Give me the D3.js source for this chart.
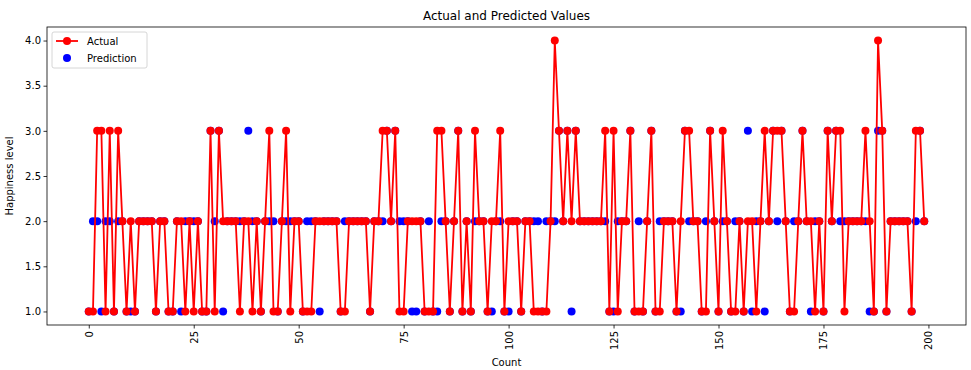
<!DOCTYPE html>
<html>
<head>
<meta charset="utf-8">
<script src="https://cdn.jsdelivr.net/npm/d3@7"></script>
<style>
  body { margin: 0; background: #fff; }
  svg { font-family: "DejaVu Sans", sans-serif; }
</style>
</head>
<body>
<div class="container"></div>
<script>
// actual happiness level, one per count 0..199
var actual = [
  1,1,3,3,1,3,1,3,2,1, 2,1,2,2,2,2,1,2,2,1,
  1,2,2,1,2,1,2,1,1,3, 1,3,2,2,2,2,1,2,2,1,
  2,1,2,3,1,1,2,3,1,2, 2,1,1,1,2,2,2,2,2,2,
  1,1,2,2,2,2,2,1,2,2, 3,3,2,3,1,1,2,2,2,2,
  1,1,1,3,3,2,1,2,3,1, 2,1,3,2,2,1,2,2,3,1,
  2,2,2,1,2,2,1,1,1,1, 2,4,3,2,3,2,3,2,2,2,
  2,2,2,3,1,3,1,2,2,3, 1,1,1,2,3,1,1,2,2,2,
  1,2,3,3,2,2,1,1,3,2, 1,3,2,1,1,2,1,2,2,1,
  2,3,2,3,3,3,2,1,1,2, 3,2,2,1,2,1,3,2,3,3,
  1,2,2,2,2,3,2,1,4,3, 1,2,2,2,2,2,1,3,3,2
];

// predictions that differ from the actual value: [count, level]
var predDiff = [
  [1,2],[2,2],[3,1],[4,2],[5,2],[7,2],[10,1],[22,1],[23,2],[25,2],
  [30,2],[32,1],[36,2],[38,3],[39,2],[43,2],[44,2],[47,2],[48,2],[52,2],
  [53,2],[55,1],[61,2],[70,2],[74,2],[75,2],[77,1],[78,1],[81,2],[83,1],
  [84,2],[92,2],[96,1],[98,2],[100,1],[106,2],[107,2],[109,2],[111,2],[115,1],
  [123,2],[125,1],[126,2],[131,2],[136,2],[141,1],[143,2],[147,2],[151,2],[154,2],
  [157,3],[158,1],[159,2],[161,1],[164,2],[168,2],[172,1],[173,2],[179,2],[180,2],
  [185,2],[186,1],[188,3],[197,2]
];

var yTicks = [1.0, 1.5, 2.0, 2.5, 3.0, 3.5, 4.0];
var xTicks = [0, 25, 50, 75, 100, 125, 150, 175, 200];

var prediction = actual.slice();
predDiff.forEach(function(p){ prediction[p[0]] = p[1]; });

var W = 971, H = 370;
var padL = 47, padR = 966, padT = 27, padB = 325;

var svg = d3.select('.container').append('svg')
  .attr('width', W).attr('height', H);

var x = d3.scaleLinear().domain([-9.95, 208.95]).range([padL, padR]);
var y = d3.scaleLinear().domain([0.85, 4.15]).range([padB, padT]);

// axes
var xAxis = svg.append('g')
  .attr('transform', 'translate(0,' + padB + ')')
  .call(d3.axisBottom(x).tickValues(xTicks).tickSize(3.5).tickFormat(d3.format('d')));
xAxis.selectAll('text')
  .attr('transform', 'rotate(-90)')
  .attr('text-anchor', 'end')
  .attr('x', -6).attr('y', 0).attr('dy', '0.35em');

var yAxis = svg.append('g')
  .attr('transform', 'translate(' + padL + ',0)')
  .call(d3.axisLeft(y).tickValues(yTicks).tickSize(3.5).tickFormat(d3.format('.1f')));

svg.selectAll('.domain').remove();
svg.selectAll('.tick line').attr('stroke', '#000').attr('stroke-width', 0.8);
svg.selectAll('.tick text').attr('font-size', 10).attr('fill', '#000')
  .attr('font-family', '"DejaVu Sans", sans-serif');
yAxis.selectAll('text').attr('x', -6);

// frame
svg.append('rect')
  .attr('x', padL).attr('y', padT)
  .attr('width', padR - padL).attr('height', padB - padT)
  .attr('fill', 'none').attr('stroke', '#000').attr('stroke-width', 0.8);

var plot = svg.append('g');

// prediction scatter (below the line)
plot.selectAll('circle.pred')
  .data(prediction)
  .enter().append('circle')
  .attr('class', 'pred')
  .attr('cx', function(d, i){ return x(i); })
  .attr('cy', function(d){ return y(d); })
  .attr('r', 4)
  .style('fill', 'blue');

var line = d3.line()
  .x(function(d, i){ return x(i); })
  .y(function(d){ return y(d); });

plot.append('path')
  .datum(actual)
  .attr('d', line)
  .attr('fill', 'none')
  .attr('stroke', 'red')
  .attr('stroke-width', 1.8);

plot.selectAll('circle.act')
  .data(actual)
  .enter().append('circle')
  .attr('class', 'act')
  .attr('cx', function(d, i){ return x(i); })
  .attr('cy', function(d){ return y(d); })
  .attr('r', 4)
  .style('fill', 'red');

// titles
svg.append('text')
  .attr('x', (padL + padR) / 2).attr('y', 20)
  .attr('text-anchor', 'middle')
  .attr('font-size', 12)
  .text('Actual and Predicted Values');

svg.append('text')
  .attr('x', (padL + padR) / 2).attr('y', 366)
  .attr('text-anchor', 'middle')
  .attr('font-size', 10)
  .text('Count');

svg.append('text')
  .attr('transform', 'translate(13,' + ((padT + padB) / 2) + ') rotate(-90)')
  .attr('text-anchor', 'middle')
  .attr('font-size', 10)
  .text('Happiness level');

// legend
var lg = svg.append('g').attr('transform', 'translate(52,32)');
lg.append('rect')
  .attr('width', 95).attr('height', 36).attr('rx', 2)
  .attr('fill', '#fff').attr('fill-opacity', 0.8)
  .attr('stroke', '#ccc').attr('stroke-width', 0.8);
lg.append('line')
  .attr('x1', 4).attr('x2', 26).attr('y1', 9).attr('y2', 9)
  .attr('stroke', 'red').attr('stroke-width', 1.8);
lg.append('circle').attr('cx', 15).attr('cy', 9).attr('r', 4).style('fill', 'red');
lg.append('circle').attr('cx', 15).attr('cy', 26).attr('r', 4).style('fill', 'blue');
lg.append('text').attr('x', 35).attr('y', 13).attr('font-size', 10).text('Actual');
lg.append('text').attr('x', 35).attr('y', 30).attr('font-size', 10).text('Prediction');
</script>
</body>
</html>
